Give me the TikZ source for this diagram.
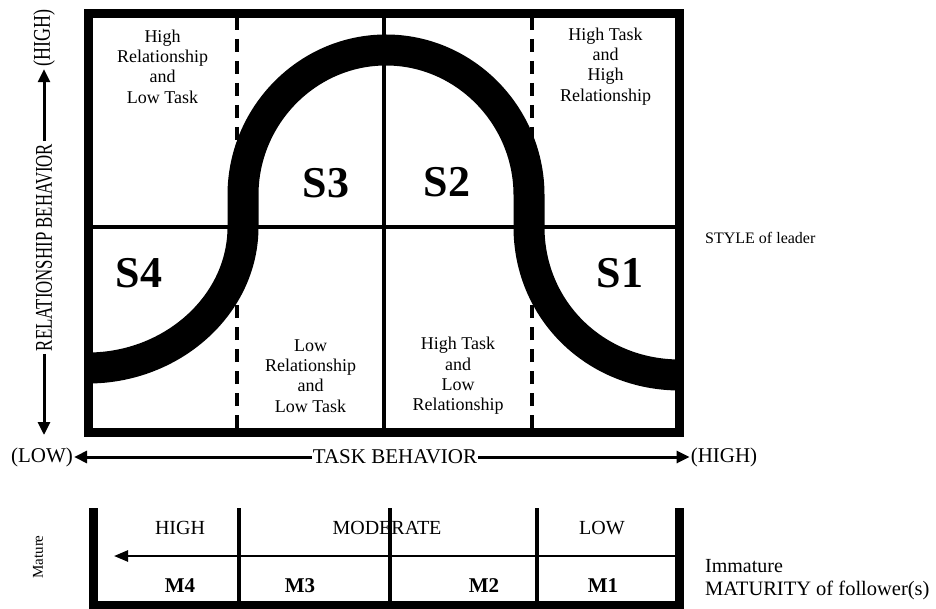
\documentclass[tikz,border=0pt]{standalone}
\usepackage{fontspec}
\setmainfont{Liberation Serif}
\usepackage{graphicx}
\usetikzlibrary{arrows.meta,positioning,calc}
\newcommand{\narrowtxt}[2]{\scalebox{#1}[1]{#2}}

\begin{document}
\begin{tikzpicture}[
    x=1pt, y=-1pt,
    quad/.style={align=center, font=\fontsize{18}{20.3}\selectfont, inner sep=0pt},
    stylab/.style={font=\fontsize{44}{44}\selectfont\bfseries, inner sep=0pt},
    axlab/.style={font=\fontsize{21}{22}\selectfont, inner sep=1pt},
    sidelab/.style={font=\fontsize{24}{24}\selectfont, inner sep=2.5pt, rotate=90},
    matlab/.style={font=\fontsize{20}{22}\selectfont, inner sep=0pt},
    mlab/.style={font=\fontsize{21}{22}\selectfont\bfseries, inner sep=0pt},
    frame/.style={line width=9pt, line join=miter},
    gridline/.style={line width=3.5pt},
    dashline/.style={line width=4pt, dash pattern=on 13pt off 9pt},
    bell/.style={line width=31pt, line cap=butt},
    axarrow/.style={line width=3pt, -{Triangle[length=13pt, width=12pt]}}
]
\useasboundingbox (0,0) rectangle (936,609);

% ===== GRID OF THE FOUR STYLES =====
\draw[gridline] (88,227) -- (679,227);
\draw[gridline] (384,13.5) -- (384,432);
\draw[dashline] (237,17) -- (237,170);
\draw[dashline] (532,17) -- (532,170);
\draw[dashline] (237,428) -- (237,280);
\draw[dashline] (532,428) -- (532,280);

% ===== BELL CURVE =====
\draw[bell] (88,368) .. controls (172,368) and (243,305) .. (243,227)
    -- (243,195)
    .. controls (243,116) and (307,50) .. (386,50)
    .. controls (465,50) and (529,116) .. (529,195)
    -- (529,227)
    .. controls (529,310) and (595,375) .. (680,375);

\draw[frame] (88,13.5) rectangle (679,432);

% ===== QUADRANT TEXTS =====
\node[quad] (qHRLT) at (162.5,66.5) {High\\Relationship\\and\\Low Task};
\node[quad] (qHTHR) at (605.5,66.5) {High Task\\and\\High\\Relationship};
\node[quad] (qLRLT) at (310.5,376) {Low\\Relationship\\and\\Low Task};
\node[quad] (qHTLR) at (458,376) {High Task\\and\\Low\\Relationship};

\node[stylab] (s3) at (326,183) {S3};
\node[stylab] (s2) at (447,182) {S2};
\node[stylab] (s4) at (139,273) {S4};
\node[stylab] (s1) at (620,273) {S1};

\node[font=\fontsize{16}{17}\selectfont, anchor=west, inner sep=0pt] (style) at (705,238) {STYLE of leader};

% ===== AXES =====
\node[sidelab] (rbeh) at (44,247.5) {\narrowtxt{0.7}{RELATIONSHIP BEHAVIOR}};
\node[sidelab] (rhigh) at (44,38) {\narrowtxt{0.75}{(HIGH)}};
\coordinate (rlow) at (44,435);
\draw[axarrow] (rbeh.east) -- (rhigh.west);
\draw[axarrow] (rbeh.west) -- (rlow);

\node[axlab] (tlow) at (42,457) {(LOW)};
\node[axlab] (tbeh) at (395,457) {TASK BEHAVIOR};
\node[axlab] (thigh) at (724,457) {(HIGH)};
\draw[axarrow] (tbeh.west) -- (tlow.east);
\draw[axarrow] (tbeh.east) -- (thigh.west);

% ===== MATURITY OF FOLLOWERS =====
\draw[gridline] (239,508) -- (239,603);
\draw[gridline] (390,508) -- (390,603);
\draw[gridline] (537,508) -- (537,603);
\coordinate (mright) at (675,556);
\coordinate (mleft) at (114,556);
\draw[line width=2.5pt, -{Triangle[length=14pt, width=11pt]}] (mright) -- (mleft);
\draw[frame] (93,508) -- (93,605) -- (679.5,605) -- (679.5,508);

\node[matlab] (cHigh) at (180,528) {HIGH};
\node[matlab] (cMod) at (387,528) {MODERATE};
\node[matlab] (cLow) at (602,528) {LOW};
\node[mlab] (m4) at (180,586) {M4};
\node[mlab] (m3) at (300,586) {M3};
\node[mlab] (m2) at (484,586) {M2};
\node[mlab] (m1) at (603,586) {M1};

\node[font=\fontsize{15}{16}\selectfont, rotate=90, inner sep=0pt] (mature) at (38,557) {Mature};
\node[matlab, anchor=west] (immature) at (705,566) {Immature};
\node[font=\fontsize{20.5}{22}\selectfont, anchor=west, inner sep=0pt] (matfol) at (705,590) {MATURITY of follower(s)};

\end{tikzpicture}
\end{document}
